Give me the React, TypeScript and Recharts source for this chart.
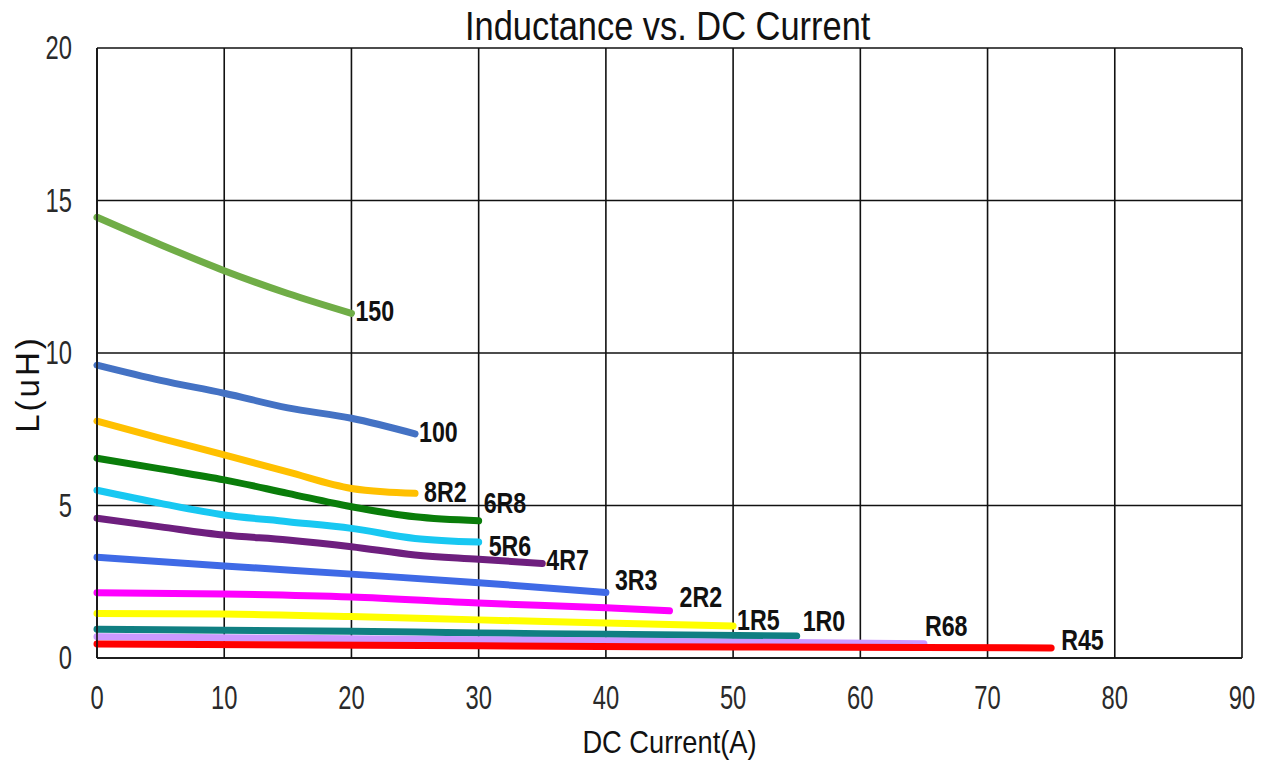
import React from 'react';
import { LineChart, Line, XAxis, YAxis, CartesianGrid } from 'recharts';

type Pt = { x: number; y: number };

// inductance (uH) against DC bias current (A), one array per part code
const L150: Pt[] = [
    { x: 0, y: 14.45 }, { x: 5, y: 13.55 }, { x: 10, y: 12.7 }, { x: 15, y: 11.95 }, { x: 20, y: 11.3 },
];
const L100: Pt[] = [
    { x: 0, y: 9.6 }, { x: 5, y: 9.1 }, { x: 10, y: 8.68 }, { x: 15, y: 8.2 }, { x: 20, y: 7.86 }, { x: 25, y: 7.35 },
];
const L8R2: Pt[] = [
    { x: 0, y: 7.77 }, { x: 5, y: 7.2 }, { x: 10, y: 6.66 }, { x: 15, y: 6.1 }, { x: 20, y: 5.56 }, { x: 22.5, y: 5.45 }, { x: 25, y: 5.4 },
];
const L6R8: Pt[] = [
    { x: 0, y: 6.55 }, { x: 5, y: 6.2 }, { x: 10, y: 5.84 }, { x: 15, y: 5.4 }, { x: 20, y: 4.96 }, { x: 25, y: 4.63 }, { x: 30, y: 4.5 },
];
const L5R6: Pt[] = [
    { x: 0, y: 5.5 }, { x: 5, y: 5.07 }, { x: 10, y: 4.69 }, { x: 15, y: 4.47 }, { x: 20, y: 4.25 }, { x: 25, y: 3.92 }, { x: 30, y: 3.8 },
];
const L4R7: Pt[] = [
    { x: 0, y: 4.58 }, { x: 5, y: 4.3 }, { x: 10, y: 4.03 }, { x: 15, y: 3.87 }, { x: 20, y: 3.65 }, { x: 25, y: 3.38 }, { x: 30, y: 3.24 }, { x: 35, y: 3.1 },
];
const L3R3: Pt[] = [
    { x: 0, y: 3.3 }, { x: 10, y: 3.02 }, { x: 20, y: 2.75 }, { x: 30, y: 2.47 }, { x: 40, y: 2.15 },
];
const L2R2: Pt[] = [
    { x: 0, y: 2.14 }, { x: 10, y: 2.1 }, { x: 20, y: 2.0 }, { x: 30, y: 1.8 }, { x: 40, y: 1.65 }, { x: 45, y: 1.55 },
];
const L1R5: Pt[] = [
    { x: 0, y: 1.46 }, { x: 10, y: 1.44 }, { x: 20, y: 1.36 }, { x: 30, y: 1.25 }, { x: 40, y: 1.15 }, { x: 50, y: 1.05 },
];
const L1R0: Pt[] = [
    { x: 0, y: 0.94 }, { x: 20, y: 0.88 }, { x: 30, y: 0.82 }, { x: 40, y: 0.78 }, { x: 55, y: 0.72 },
];
const LR68: Pt[] = [
    { x: 0, y: 0.7 }, { x: 30, y: 0.6 }, { x: 50, y: 0.52 }, { x: 65, y: 0.47 },
];
const LR45: Pt[] = [
    { x: 0, y: 0.46 }, { x: 30, y: 0.4 }, { x: 50, y: 0.36 }, { x: 75, y: 0.33 },
];

const xTicks = [0, 10, 20, 30, 40, 50, 60, 70, 80, 90];
const yTicks = [0, 5, 10, 15, 20];

// drawing order, colour and end-label nudge for each curve
const series = [
    { name: '150', data: L150, color: '#70AD47', dx: 4, dy: -2 },
    { name: '100', data: L100, color: '#4472C4', dx: 4, dy: -2 },
    { name: '8R2', data: L8R2, color: '#FFC000', dx: 9, dy: -1 },
    { name: '6R8', data: L6R8, color: '#0A7D0A', dx: 5, dy: -18 },
    { name: '5R6', data: L5R6, color: '#18C8F2', dx: 10, dy: 4 },
    { name: '4R7', data: L4R7, color: '#6E1F7E', dx: 4, dy: -3 },
    { name: '3R3', data: L3R3, color: '#3F6AE6', dx: 9, dy: -12 },
    { name: '2R2', data: L2R2, color: '#FF00FF', dx: 10, dy: -14 },
    { name: '1R5', data: L1R5, color: '#FFFF00', dx: 4, dy: -6 },
    { name: '1R0', data: L1R0, color: '#107F82', dx: 6, dy: -15 },
    { name: 'R68', data: LR68, color: '#CC99FF', dx: 1, dy: -18 },
    { name: 'R45', data: LR45, color: '#FF0000', dx: 10, dy: -8 },
];

const sans = '"Liberation Sans", Arial, sans-serif';

// text squeezed horizontally to get the tall, condensed look
const Squeezed = ({ x, y, sx, children, ...rest }: any) => (
    <text transform={`translate(${x},${y}) scale(${sx},1)`} fontFamily={sans} dominantBaseline="central" {...rest}>
        {children}
    </text>
);

const endLabel = (name: string, last: number, dx: number, dy: number) => (props: any) => {
    if (props.index !== last) return null;
    return (
        <Squeezed x={props.x + dx} y={props.y + dy} sx={0.8} fontWeight="bold" fontSize={29} fill="#111">
            {name}
        </Squeezed>
    );
};

const XTick = (props: any) => (
    <Squeezed x={props.x} y={props.y + 32} sx={0.72} textAnchor="middle" fontSize={33} fill="#2a2a2a">
        {props.payload.value}
    </Squeezed>
);

const YTick = (props: any) => (
    <Squeezed x={72} y={props.y} sx={0.72} textAnchor="end" fontSize={33} fill="#2a2a2a">
        {props.payload.value}
    </Squeezed>
);

const App: React.FC = () => {
    return (
        <div style={{ position: 'absolute', left: 0, top: 0, width: 1264, height: 760, background: '#fff' }}>
            <div
                style={{
                    position: 'absolute',
                    left: 0,
                    width: 1336,
                    top: 4,
                    textAlign: 'center',
                    fontFamily: sans,
                    fontSize: 40,
                    color: '#111',
                    lineHeight: '44px',
                }}
            >
                <span style={{ display: 'inline-block', transform: 'scaleX(0.86)' }}>Inductance vs. DC Current</span>
            </div>
            <LineChart width={1264} height={760} margin={{ top: 48, right: 22, left: 0, bottom: 0 }}>
                <CartesianGrid stroke="#111" strokeWidth={1.6} horizontalValues={yTicks} verticalValues={xTicks} />
                <XAxis
                    type="number"
                    dataKey="x"
                    domain={[0, 90]}
                    ticks={xTicks}
                    height={102}
                    tickLine={false}
                    axisLine={{ stroke: '#111', strokeWidth: 1.6 }}
                    tick={<XTick />}
                    label={{
                        content: (p: any) => (
                            <Squeezed
                                x={p.viewBox.x + p.viewBox.width / 2}
                                y={742}
                                sx={0.88}
                                textAnchor="middle"
                                fontSize={31}
                                fill="#111"
                            >
                                DC Current(A)
                            </Squeezed>
                        ),
                    }}
                />
                <YAxis
                    type="number"
                    domain={[0, 20]}
                    ticks={yTicks}
                    width={97}
                    tickLine={false}
                    axisLine={{ stroke: '#111', strokeWidth: 1.6 }}
                    tick={<YTick />}
                    label={{
                        content: (p: any) => {
                            const cx = 27;
                            const cy = p.viewBox.y + p.viewBox.height / 2 + 31;
                            return (
                                <text
                                    x={cx}
                                    y={cy}
                                    transform={`rotate(-90 ${cx} ${cy})`}
                                    textAnchor="middle"
                                    dominantBaseline="central"
                                    fontFamily={sans}
                                    fontSize={33}
                                    letterSpacing={3}
                                    fill="#111"
                                >
                                    L(uH)
                                </text>
                            );
                        },
                    }}
                />
                {series.map((s) => (
                    <Line
                        key={s.name}
                        data={s.data}
                        dataKey="y"
                        type="monotone"
                        stroke={s.color}
                        strokeWidth={7}
                        strokeLinecap="round"
                        dot={false}
                        isAnimationActive={false}
                        label={endLabel(s.name, s.data.length - 1, s.dx, s.dy)}
                    />
                ))}
            </LineChart>
        </div>
    );
};

export default App;
